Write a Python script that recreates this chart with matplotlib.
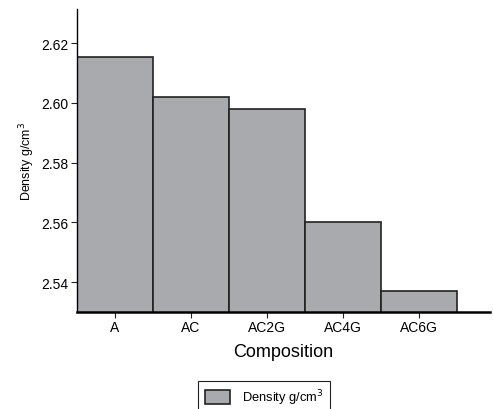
import matplotlib
matplotlib.use("Agg")
import matplotlib.pyplot as plt

categories = ["A", "AC", "AC2G", "AC4G", "AC6G"]
density = [2.6153, 2.602, 2.598, 2.560, 2.537]

plt.rcParams['font.family'] = ['Liberation Sans', 'DejaVu Sans']

fig = plt.figure(figsize=(4.93, 4.10), dpi=100)
ax = fig.add_axes([77/493, 1-313/410, (490-77)/493, (313-10)/410])

x = list(range(len(categories)))
bars = ax.bar(x, density, width=1.0, color="#a9aaad", edgecolor="#222222",
              linewidth=1.2, label="Density g/cm$^3$", bottom=0)
ax.set_ylim(2.530, 2.6314)
ax.set_xlim(-0.5, 4.93)
ax.set_yticks([2.54, 2.56, 2.58, 2.60, 2.62])
ax.set_yticklabels(["2.54", "2.56", "2.58", "2.60", "2.62"])
ax.set_xticks(x)
ax.set_xticklabels(categories)
ax.tick_params(axis='both', labelsize=10, length=4, width=0.8, color="#222222", pad=2)
ax.spines['top'].set_visible(False)
ax.spines['right'].set_visible(False)
ax.spines['left'].set_linewidth(1.0)
ax.spines['bottom'].set_linewidth(1.8)
ax.set_xlabel("Composition", fontsize=13, labelpad=6)
ax.set_ylabel("Density g/cm$^3$", fontsize=9, labelpad=3)

fig.legend(handles=[bars], labels=["Density g/cm$^3$"], loc="upper center",
           bbox_to_anchor=(264/493, 1-382/410), fontsize=9.3, fancybox=False,
           edgecolor="#222222", framealpha=1, borderpad=0.5, handlelength=2.0,
           handleheight=1.2, handletextpad=0.9, borderaxespad=0)
fig.legends[0].get_frame().set_linewidth(0.8)

fig.savefig("out.png", dpi=100)
